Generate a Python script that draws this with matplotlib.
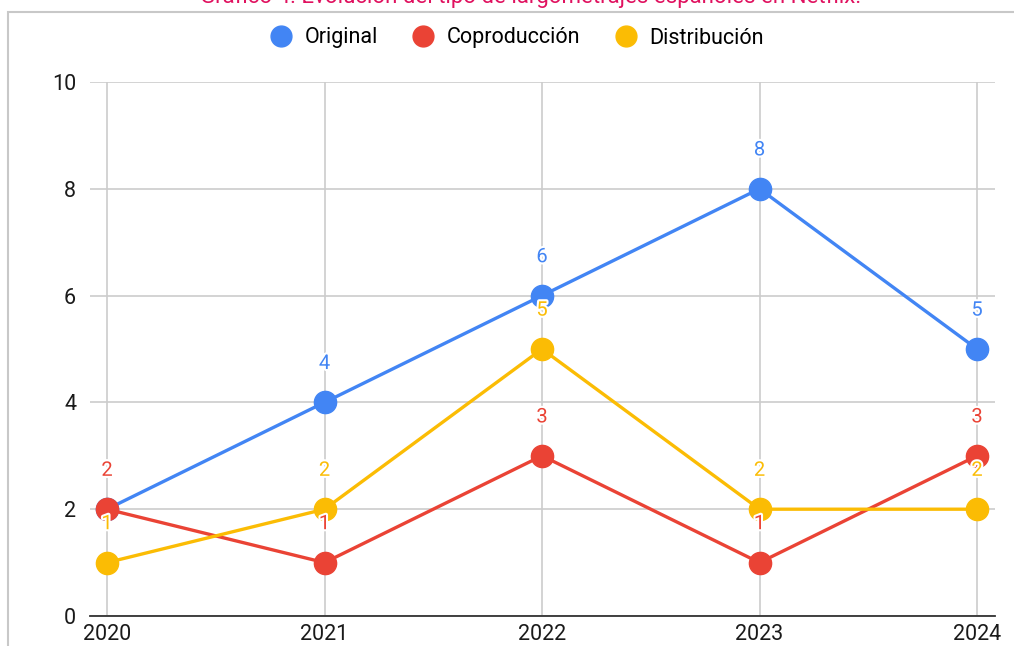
import matplotlib.pyplot as plt
from matplotlib.patches import Rectangle
from matplotlib.lines import Line2D
import matplotlib.patheffects as pe

plt.rcParams["font.family"] = ["Roboto", "DejaVu Sans"]

years = [2020, 2021, 2022, 2023, 2024]
original = [2, 4, 6, 8, 5]
coproduccion = [2, 1, 3, 1, 3]
distribucion = [1, 2, 5, 2, 2]

series = [
    ("Original", original, "#4285F4"),
    ("Coproducción", coproduccion, "#EA4335"),
    ("Distribución", distribucion, "#FBBC04"),
]

fig = plt.figure(figsize=(10.14, 6.46), dpi=100)

# outer card frame (runs off the right and bottom edges)
fig.patches.append(Rectangle((8 / 1014, -0.05), 1.1, 1 - 12 / 646 + 0.05,
                             transform=fig.transFigure, fill=False,
                             edgecolor="#c8c8c8", linewidth=1.5))

fig.text(0.523, 1 - 3 / 646,
         "Gráfico 4. Evolución del tipo de largometrajes españoles en Netflix.",
         ha="center", va="baseline", fontsize=16, color="#E0115F")

ax = fig.add_axes([90 / 1014, 1 - 616 / 646, (995 - 90) / 1014, (616 - 82) / 646])
ax.set_xlim(2020 - 17 / 217.5, 2024 + 18 / 217.5)
ax.set_ylim(0, 10)

for name, vals, color in series:
    ax.plot(years, vals, color=color, linewidth=2.4, marker="o",
            markersize=16, clip_on=False, zorder=3)

# value labels above each point, with a white halo
for name, vals, color in series:
    for x, v in zip(years, vals):
        ax.annotate(str(v), (x, v), xytext=(0, 28), textcoords="offset points",
                    ha="center", va="center", fontsize=14.5, color=color,
                    zorder=5, annotation_clip=False,
                    path_effects=[pe.withStroke(linewidth=3, foreground="white")])

ax.set_yticks([0, 2, 4, 6, 8, 10])
ax.set_xticks(years)
ax.set_xticklabels([str(y) for y in years])
ax.grid(True, color="#cccccc", linewidth=1.2, zorder=0)
ax.set_axisbelow(True)
for s in ["top", "right", "left"]:
    ax.spines[s].set_visible(False)
ax.spines["bottom"].set_color("#333333")
ax.spines["bottom"].set_linewidth(1.3)
ax.tick_params(axis="both", length=0, labelsize=15.5, colors="#1a1a1a")
ax.tick_params(axis="y", pad=10)
ax.tick_params(axis="x", pad=6)

handles = [Line2D([], [], linestyle="none", marker="o", markersize=15,
                  color=c) for _, _, c in series]
fig.legend(handles, [n for n, _, _ in series], loc="center",
           bbox_to_anchor=(0.51, 1 - 38 / 646), ncol=3, frameon=False,
           fontsize=15.5, handletextpad=0.6, columnspacing=1.6,
           handlelength=1.0)

fig.savefig("out.png", dpi=100)
